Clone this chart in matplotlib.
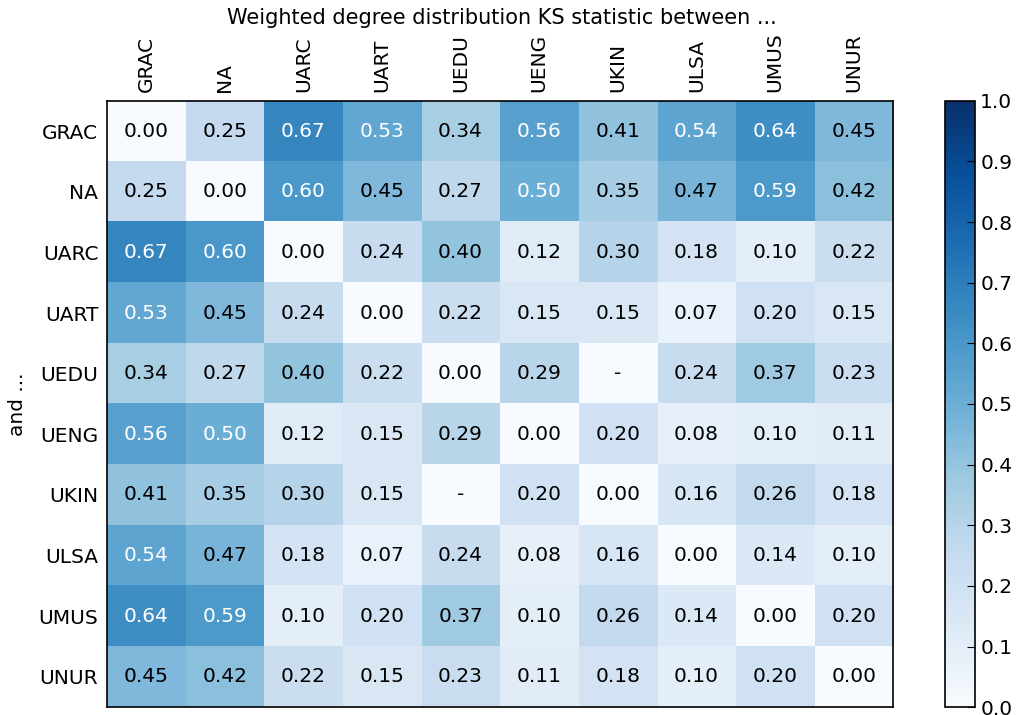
import numpy as np
import matplotlib
matplotlib.use("Agg")
import matplotlib.pyplot as plt

groups = ["GRAC", "NA", "UARC", "UART", "UEDU", "UENG", "UKIN", "ULSA", "UMUS", "UNUR"]

# KS statistic per pair, None where the pair has no value
ks_grac = [0.00, 0.25, 0.67, 0.53, 0.34, 0.56, 0.41, 0.54, 0.64, 0.45]
ks_na   = [0.25, 0.00, 0.60, 0.45, 0.27, 0.50, 0.35, 0.47, 0.59, 0.42]
ks_uarc = [0.67, 0.60, 0.00, 0.24, 0.40, 0.12, 0.30, 0.18, 0.10, 0.22]
ks_uart = [0.53, 0.45, 0.24, 0.00, 0.22, 0.15, 0.15, 0.07, 0.20, 0.15]
ks_uedu = [0.34, 0.27, 0.40, 0.22, 0.00, 0.29, None, 0.24, 0.37, 0.23]
ks_ueng = [0.56, 0.50, 0.12, 0.15, 0.29, 0.00, 0.20, 0.08, 0.10, 0.11]
ks_ukin = [0.41, 0.35, 0.30, 0.15, None, 0.20, 0.00, 0.16, 0.26, 0.18]
ks_ulsa = [0.54, 0.47, 0.18, 0.07, 0.24, 0.08, 0.16, 0.00, 0.14, 0.10]
ks_umus = [0.64, 0.59, 0.10, 0.20, 0.37, 0.10, 0.26, 0.14, 0.00, 0.20]
ks_unur = [0.45, 0.42, 0.22, 0.15, 0.23, 0.11, 0.18, 0.10, 0.20, 0.00]

rows = [ks_grac, ks_na, ks_uarc, ks_uart, ks_uedu, ks_ueng, ks_ukin, ks_ulsa, ks_umus, ks_unur]
ks = np.array([[np.nan if v is None else v for v in r] for r in rows])

plt.rcParams["font.family"] = "DejaVu Sans"
fs = 14.5

fig = plt.figure(figsize=(10.16, 7.15), dpi=100)
ax = fig.add_axes([0.105, 0.011, 0.774, 0.848])
cax = fig.add_axes([0.930, 0.011, 0.030, 0.848])

# missing pairs get coloured like zero
im = ax.imshow(np.nan_to_num(ks, nan=0.0), cmap="Blues", vmin=0, vmax=1,
               interpolation="nearest", aspect="auto")

for i in range(len(groups)):
    for j in range(len(groups)):
        v = ks[i, j]
        if np.isnan(v):
            txt, col = "-", "black"
        else:
            txt = f"{v:.2f}"
            col = "white" if v >= 0.5 else "black"
        ax.text(j, i, txt, ha="center", va="center", color=col, fontsize=fs)

ax.set_xticks(range(len(groups)))
ax.set_yticks(range(len(groups)))
ax.set_xticklabels(groups, rotation=90)
ax.set_yticklabels(groups)
ax.xaxis.tick_top()
ax.tick_params(length=0, labelsize=fs, pad=6)
for s in ax.spines.values():
    s.set_linewidth(1.2)

fig.text(0.494, 1 - 18 / 715, "Weighted degree distribution KS statistic between ...",
         ha="center", va="center", fontsize=15)
ax.set_ylabel("and ...", fontsize=fs, labelpad=8)

ticks = np.arange(0, 1.01, 0.1)
cb = fig.colorbar(im, cax=cax, ticks=ticks)
cb.ax.tick_params(direction="in", length=6, labelsize=fs)
cb.ax.set_yticklabels([f"{t:.1f}" for t in ticks])
cb.outline.set_linewidth(1.2)

fig.savefig("out.png", dpi=100)
